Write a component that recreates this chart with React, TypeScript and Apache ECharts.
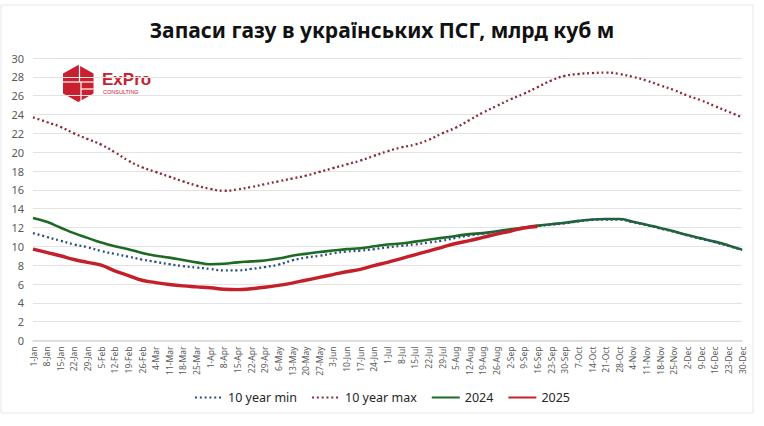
import React, { useEffect, useRef } from "react";
import * as echarts from "echarts";

const categories = [
  "1-Jan","8-Jan","15-Jan","22-Jan","29-Jan","5-Feb","12-Feb","19-Feb","26-Feb",
  "4-Mar","11-Mar","18-Mar","25-Mar","1-Apr","8-Apr","15-Apr","22-Apr","29-Apr",
  "6-May","13-May","20-May","27-May","3-Jun","10-Jun","17-Jun","24-Jun","1-Jul",
  "8-Jul","15-Jul","22-Jul","29-Jul","5-Aug","12-Aug","19-Aug","26-Aug","2-Sep",
  "9-Sep","16-Sep","23-Sep","30-Sep","7-Oct","14-Oct","21-Oct","28-Oct","4-Nov",
  "11-Nov","18-Nov","25-Nov","2-Dec","9-Dec","16-Dec","23-Dec","30-Dec",
];

const min10 = [
  11.4, 11.0, 10.6, 10.2, 9.9, 9.5, 9.2, 8.9, 8.6, 8.35, 8.1, 7.9, 7.75, 7.6,
  7.45, 7.45, 7.6, 7.8, 8.05, 8.5, 8.8, 9.0, 9.25, 9.45, 9.55, 9.7, 9.9, 10.05,
  10.2, 10.4, 10.6, 10.9, 11.15, 11.35, 11.55, 11.75, 11.95, 12.15, 12.3, 12.45,
  12.65, 12.8, 12.85, 12.85, 12.55, 12.25, 11.9, 11.55, 11.15, 10.8, 10.45,
  10.05, 9.6,
];

const max10 = [
  23.7, 23.2, 22.7, 22.0, 21.4, 20.8, 20.0, 19.1, 18.4, 17.9, 17.4, 16.9, 16.45,
  16.1, 15.9, 16.05, 16.3, 16.6, 16.9, 17.2, 17.5, 17.9, 18.3, 18.7, 19.1, 19.6,
  20.1, 20.5, 20.8, 21.3, 22.0, 22.6, 23.4, 24.2, 24.9, 25.6, 26.2, 26.9, 27.6,
  28.1, 28.3, 28.4, 28.45, 28.3, 28.0, 27.6, 27.1, 26.6, 26.0, 25.5, 24.9, 24.3,
  23.7,
];

const y2024 = [
  13.0, 12.6, 12.0, 11.4, 10.9, 10.4, 10.0, 9.7, 9.3, 9.0, 8.8, 8.55, 8.3, 8.1,
  8.15, 8.3, 8.4, 8.5, 8.7, 9.0, 9.2, 9.4, 9.55, 9.7, 9.8, 10.0, 10.2, 10.3, 10.5,
  10.7, 10.9, 11.1, 11.3, 11.4, 11.6, 11.8, 12.0, 12.2, 12.35, 12.5, 12.7, 12.85,
  12.9, 12.9, 12.6, 12.3, 11.95, 11.6, 11.2, 10.85, 10.5, 10.1, 9.65,
];

const y2025 = [
  9.7, 9.35, 9.0, 8.6, 8.3, 8.0, 7.4, 6.9, 6.4, 6.15, 5.95, 5.8, 5.7, 5.6, 5.45,
  5.4, 5.5, 5.65, 5.85, 6.1, 6.4, 6.7, 7.0, 7.3, 7.55, 7.95, 8.3, 8.7, 9.1, 9.5,
  9.9, 10.3, 10.6, 10.95, 11.3, 11.6, 11.95, 12.1,
];

const TITLE = "Запаси газу в українських ПСГ, млрд куб м";
const FONT = "'Noto Sans', 'DejaVu Sans', sans-serif";

export default function App() {
  const ref = useRef<HTMLDivElement>(null);

  useEffect(() => {
    document.body.style.margin = "0";
    if (!ref.current) return;
    const chart = echarts.init(ref.current, undefined, { renderer: "svg" });
    const red = "#c3202b";
    chart.setOption({
      animation: false,
      backgroundColor: "#ffffff",
      textStyle: { fontFamily: FONT },
      title: {
        text: TITLE,
        left: "center",
        top: 14,
        textStyle: { fontSize: 21, fontWeight: "bold", color: "#111111", fontFamily: FONT },
      },
      legend: {
        left: "center",
        top: 386,
        itemWidth: 28,
        itemHeight: 10,
        itemGap: 14,
        itemStyle: { opacity: 0 },
        textStyle: { fontSize: 12.5, color: "#262626", fontFamily: FONT },
        data: ["10 year min", "10 year max", "2024", "2025"],
      },
      grid: { left: 33, right: 22, top: 58, bottom: 85.5, containLabel: false },
      xAxis: {
        type: "category",
        data: categories,
        boundaryGap: false,
        axisLine: { lineStyle: { color: "#d9d9d9", width: 1.5 } },
        axisTick: { show: false },
        axisLabel: {
          interval: 0,
          rotate: 90,
          fontSize: 8.5,
          color: "#595959",
          margin: 6,
          fontFamily: FONT,
        },
      },
      yAxis: {
        type: "value",
        min: 0,
        max: 30,
        interval: 2,
        axisLine: { show: false },
        axisTick: { show: false },
        axisLabel: { fontSize: 11, color: "#595959", margin: 9, fontFamily: FONT },
        splitLine: { lineStyle: { color: "#e3e3e3", width: 1 } },
      },
      series: [
        {
          name: "10 year min",
          type: "line",
          data: min10,
          smooth: true,
          symbol: "none",
          z: 3,
          lineStyle: { color: "#2b4f7e", width: 2.3, type: [2, 2.8] },
          itemStyle: { color: "#2b4f7e" },
        },
        {
          name: "10 year max",
          type: "line",
          data: max10,
          smooth: true,
          symbol: "none",
          z: 3,
          lineStyle: { color: "#8a2a36", width: 2.3, type: [2, 2.8] },
          itemStyle: { color: "#8a2a36" },
        },
        {
          name: "2024",
          type: "line",
          data: y2024,
          smooth: true,
          symbol: "none",
          z: 2,
          lineStyle: { color: "#1d6a22", width: 2.6 },
          itemStyle: { color: "#1d6a22" },
        },
        {
          name: "2025",
          type: "line",
          data: y2025,
          smooth: true,
          symbol: "none",
          z: 4,
          lineStyle: { color: red, width: 3.4 },
          itemStyle: { color: red },
        },
      ],
      graphic: [
        {
          type: "rect",
          shape: { x: 1, y: 5, width: 752, height: 408 },
          style: { fill: "none", stroke: "#e6e6e6", lineWidth: 1 },
          silent: true,
        },
        {
          type: "group",
          children: [
            {
              type: "polygon",
              shape: {
                points: [
                  [78.3, 65],
                  [93.5, 73.5],
                  [93.5, 93.5],
                  [78.3, 102],
                  [63, 93.5],
                  [63, 73.5],
                ],
              },
              style: { fill: "#c8202f" },
            },
            {
              type: "line",
              shape: { x1: 79.5, y1: 65, x2: 79.5, y2: 82 },
              style: { stroke: "#ffffff", lineWidth: 1.2 },
            },
            {
              type: "line",
              shape: { x1: 63, y1: 82, x2: 93.5, y2: 82 },
              style: { stroke: "#ffffff", lineWidth: 1.2 },
            },
            {
              type: "line",
              shape: { x1: 81, y1: 82, x2: 81, y2: 102 },
              style: { stroke: "#ffffff", lineWidth: 1.2 },
            },
            {
              type: "line",
              shape: { x1: 81, y1: 89, x2: 93.5, y2: 89 },
              style: { stroke: "#ffffff", lineWidth: 1.2 },
            },
            {
              type: "text",
              x: 102,
              y: 71,
              style: {
                text: "ExPro",
                fontSize: 17,
                fontWeight: "bold",
                fill: "#c8202f",
                fontFamily: "'Liberation Sans', sans-serif",
              },
            },
            {
              type: "text",
              x: 103,
              y: 89,
              style: {
                text: "CONSULTING",
                fontSize: 5.5,
                fill: "#c8202f",
                fontFamily: "'Liberation Sans', sans-serif",
              },
            },
          ],
        },
      ],
    });
    return () => chart.dispose();
  }, []);

  return <div ref={ref} style={{ width: 764, height: 426 }} />;
}
